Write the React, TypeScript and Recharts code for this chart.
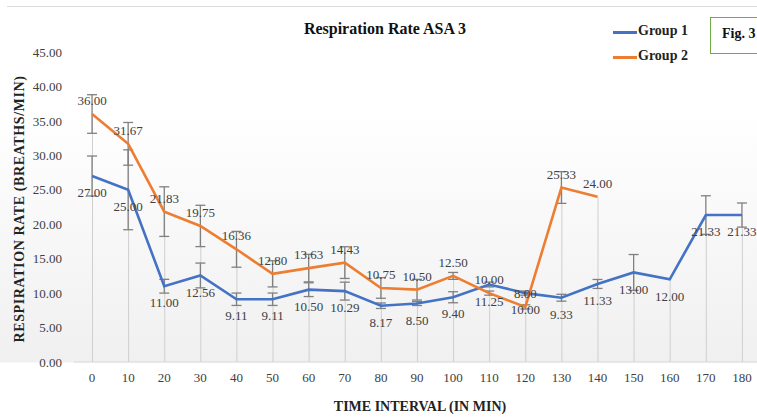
import React from 'react';
import { Bar, ComposedChart, ErrorBar, LabelList, Line, XAxis, YAxis } from 'recharts';

const times = [0, 10, 20, 30, 40, 50, 60, 70, 80, 90, 100, 110, 120, 130, 140, 150, 160, 170, 180];
const group1 = [27, 25, 11, 12.56, 9.11, 9.11, 10.5, 10.29, 8.17, 8.5, 9.4, 11.25, 10, 9.33, 11.33, 13, 12, 21.33, 21.33];
const group2 = [36, 31.67, 21.83, 19.75, 16.36, 12.8, 13.63, 14.43, 10.75, 10.5, 12.5, 10, 8, 25.33, 24, null, null, null, null];
const err1 = [2.9, 5.8, 1.0, 1.8, 0.9, 0.9, 1.0, 1.3, 0.4, 0.3, 0.8, 0.35, 0.3, 0.5, 0.65, 2.6, 0, 2.8, 1.75];
const err2 = [2.8, 3.1, 3.6, 3.0, 2.6, 1.9, 2.0, 2.3, 1.5, 1.5, 0.5, 0.3, 0.3, 2.3, 0, null, null, null, null];
const yTicks = [0, 5, 10, 15, 20, 25, 30, 35, 40, 45];

// drop lines run from the higher of the two points down to the axis
const data = times.map((t, i) => ({
  time: t,
  g1: group1[i],
  g2: group2[i],
  e1: err1[i],
  e2: err2[i],
  drop: Math.max(group1[i], group2[i] ?? 0),
}));

const SERIF = '"Liberation Serif", "Times New Roman", serif';
const BLUE = '#4472c4';
const ORANGE = '#ed7d31';
const fmt = (v: unknown) => (v == null ? '' : Number(v).toFixed(2));

export default function App() {
  return (
    <div
      style={{
        position: 'absolute',
        left: 0,
        top: 0,
        width: 757,
        height: 417,
        overflow: 'hidden',
        fontFamily: SERIF,
        background: 'linear-gradient(to bottom, #fff 0px, #fff 110px, #f0f0f0 362px, #fff 363px)',
      }}
    >
      <div style={{ position: 'absolute', left: 7, top: 6, width: 760, height: 1, background: '#dcdcdc' }} />

      <div style={{ position: 'absolute', left: 0, top: 0 }}>
        <ComposedChart width={762} height={417} data={data} margin={{ top: 52, right: 2, left: 0, bottom: 25 }}>
          <XAxis
            dataKey="time"
            height={30}
            tickSize={0}
            tickMargin={11}
            axisLine={{ stroke: '#d9d9d9' }}
            tick={{ fontFamily: SERIF, fontSize: 13, fill: '#404040' }}
            interval={0}
          />
          <YAxis
            width={74}
            domain={[0, 45]}
            ticks={yTicks}
            tickFormatter={(v) => v.toFixed(2)}
            axisLine={false}
            tickSize={0}
            tickMargin={12}
            tick={{ fontFamily: SERIF, fontSize: 13, fill: '#404040' }}
          />
          <Bar dataKey="drop" barSize={1} fill="#cfcfcf" isAnimationActive={false} />
          <Line dataKey="g1" stroke={BLUE} strokeWidth={2.6} dot={false} isAnimationActive={false}>
            <ErrorBar dataKey="e1" width={5} stroke="#808080" strokeWidth={1.3} />
            <LabelList
              dataKey="g1"
              position="bottom"
              offset={12}
              formatter={fmt}
              style={{ fontFamily: SERIF, fontSize: 13, fill: '#404040' }}
            />
          </Line>
          <Line dataKey="g2" stroke={ORANGE} strokeWidth={2.6} dot={false} isAnimationActive={false}>
            <ErrorBar dataKey="e2" width={5} stroke="#808080" strokeWidth={1.3} />
            <LabelList
              dataKey="g2"
              position="top"
              offset={9}
              formatter={fmt}
              style={{ fontFamily: SERIF, fontSize: 13, fill: '#404040' }}
            />
          </Line>
        </ComposedChart>
      </div>

      <div style={{ position: 'absolute', left: 0, width: 770, top: 20, textAlign: 'center', fontWeight: 'bold', fontSize: 16, color: '#111' }}>
        Respiration Rate ASA 3
      </div>

      <div style={{ position: 'absolute', left: 613, top: 31, width: 24, height: 3, background: BLUE }} />
      <div style={{ position: 'absolute', left: 638, top: 23, fontWeight: 'bold', fontSize: 14, color: '#222' }}>Group 1</div>
      <div style={{ position: 'absolute', left: 613, top: 56, width: 24, height: 3, background: ORANGE }} />
      <div style={{ position: 'absolute', left: 638, top: 48, fontWeight: 'bold', fontSize: 14, color: '#222' }}>Group 2</div>

      <div
        style={{
          position: 'absolute',
          left: 710,
          top: 17,
          width: 60,
          height: 35,
          border: '1px solid #70ad47',
          background: '#fff',
        }}
      />
      <div style={{ position: 'absolute', left: 722, top: 26, fontWeight: 'bold', fontSize: 14, color: '#111' }}>Fig. 3</div>

      <div
        style={{
          position: 'absolute',
          left: 20,
          top: 209,
          transform: 'translate(-50%, -50%) rotate(-90deg)',
          whiteSpace: 'nowrap',
          fontWeight: 'bold',
          fontSize: 14,
          letterSpacing: 0.6,
          color: '#222',
        }}
      >
        RESPIRATION RATE (BREATHS/MIN)
      </div>

      <div style={{ position: 'absolute', left: 0, width: 840, top: 399, textAlign: 'center', fontWeight: 'bold', fontSize: 14, color: '#222' }}>
        TIME INTERVAL (IN MIN)
      </div>
    </div>
  );
}
